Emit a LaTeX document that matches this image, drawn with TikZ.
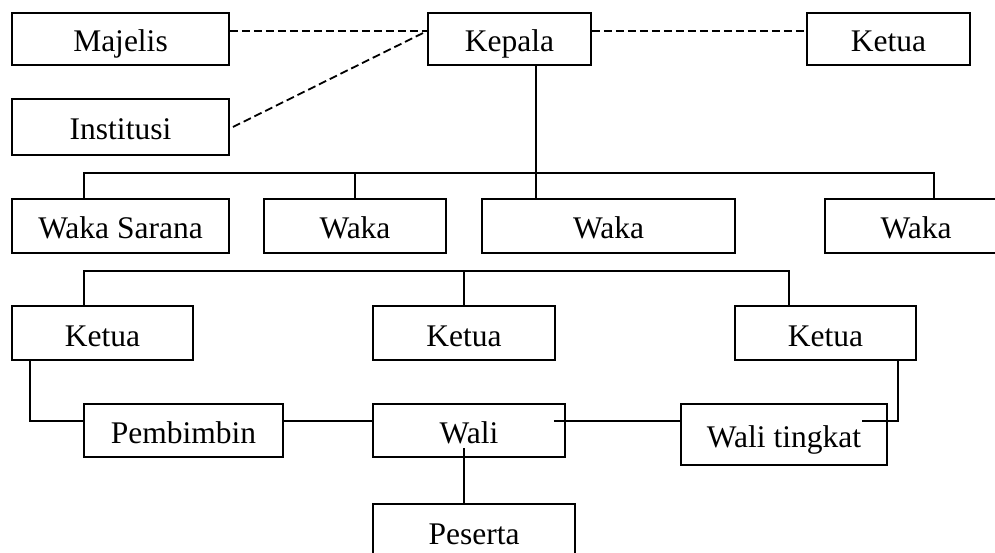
\documentclass[tikz,border=0pt]{standalone}
\usepackage{fontspec}
\setmainfont{Liberation Serif}
\usetikzlibrary{calc}
\tikzset{
    unit/.style={draw, rectangle, line width=1.8pt, inner sep=0pt,
        text height=28pt, text depth=2pt, font=\fontsize{31.5}{36}\selectfont},
    link/.style={line width=1.8pt},
    dotlink/.style={line width=1.8pt, dash pattern=on 8pt off 4pt},
}

\begin{document}
\begin{tikzpicture}[x=1pt, y=-1pt]
    \useasboundingbox (0,0) rectangle (995,553);
    \clip (0,0) rectangle (995,553);

    \coordinate (trunk) at (536,173);
    \coordinate (busL) at (84,173);
    \coordinate (busR) at (934,173);
    \coordinate (busL2) at (84,271);
    \coordinate (busR2) at (789,271);
    \coordinate (elbowA) at (30,421);
    \coordinate (elbowB) at (898,421);
    \coordinate (stemW) at (464,448);

    % Top row
    \node[unit, minimum width=217pt, minimum height=52pt] (majelis) at (120.5,39) {Majelis};
    \node[unit, minimum width=217pt, minimum height=56pt] (institusi) at (120.5,127) {Institusi};
    \node[unit, minimum width=163pt, minimum height=52pt] (kepala) at (509.5,39) {Kepala};
    \node[unit, minimum width=163pt, minimum height=52pt] (ketuaTop) at (888.5,39) {Ketua};

    % Waka row
    \node[unit, minimum width=217pt, minimum height=54pt] (wakaA) at (120.5,226) {Waka Sarana};
    \node[unit, minimum width=182pt, minimum height=54pt] (wakaB) at (355,226) {Waka};
    \node[unit, minimum width=253pt, minimum height=54pt] (wakaC) at (608.5,226) {Waka};
    \node[unit, minimum width=182pt, minimum height=54pt] (wakaD) at (916,226) {Waka};

    % Ketua row
    \node[unit, minimum width=181pt, minimum height=54pt] (ketuaA) at (102.5,333) {Ketua};
    \node[unit, minimum width=182pt, minimum height=54pt] (ketuaB) at (464,333) {Ketua};
    \node[unit, minimum width=181pt, minimum height=54pt] (ketuaC) at (825.5,333) {Ketua};

    % Wali row
    \node[unit, minimum width=199pt, minimum height=53pt] (pembimbin) at (183.5,430.5) {Pembimbin};
    \node[unit, minimum width=192pt, minimum height=53pt] (wali) at (469,430.5) {Wali};
    \node[unit, minimum width=206pt, minimum height=61pt] (walitingkat) at (784,434.5) {Wali tingkat};
    \node[unit, minimum width=202pt, minimum height=54pt] (peserta) at (474,531) {Peserta};

    % Dashed links
    \draw[dotlink] ([yshift=8pt]majelis.east) -- ([yshift=8pt]kepala.west);
    \draw[dotlink] ([xshift=3pt]institusi.east) -- ([yshift=8pt]kepala.west);
    \draw[dotlink] ([yshift=8pt]kepala.east) -- ([yshift=8pt]ketuaTop.west);

    % Kepala to Waka
    \draw[link] (trunk |- kepala.south) -- (trunk);
    \draw[link] (busL |- wakaA.north) -- (busL) -- (busR) -- (busR |- wakaD.north);
    \draw[link] (wakaB.north) -- (wakaB.north |- busL);
    \draw[link] (trunk) -- (trunk |- wakaC.north);

    % Bus to Ketua
    \draw[link] (busL2 |- ketuaA.north) -- (busL2) -- (busR2) -- (busR2 |- ketuaC.north);
    \draw[link] (ketuaB.north) -- (ketuaB.north |- busL2);

    % Wali links
    \draw[link] (elbowA |- ketuaA.south) -- (elbowA) -- (elbowA -| pembimbin.west);
    \draw[link] (elbowA -| pembimbin.east) -- (elbowA -| wali.west);
    \draw[link] ($(elbowA -| wali.east)+(-12,0)$) -- (elbowA -| walitingkat.west);
    \draw[link] (elbowB |- ketuaC.south) -- (elbowB) -- ($(elbowB -| walitingkat.east)+(-26,0)$);
    \draw[link] (stemW) -- (stemW |- peserta.north);

\end{tikzpicture}
\end{document}
